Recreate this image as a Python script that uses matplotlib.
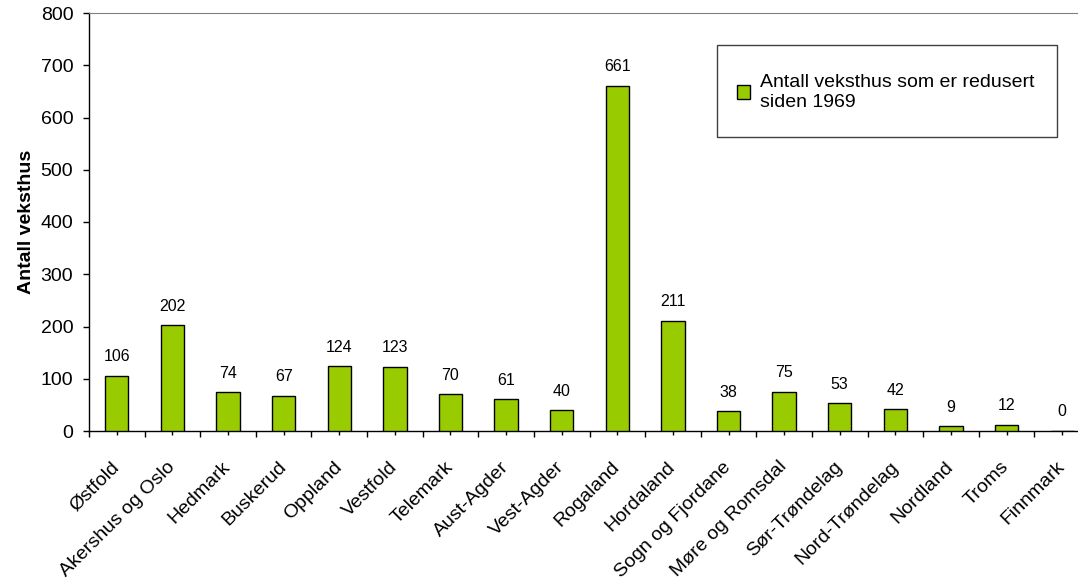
import matplotlib
matplotlib.use("Agg")
import matplotlib.pyplot as plt
from matplotlib.patches import Rectangle
from matplotlib.legend_handler import HandlerPatch
import numpy as np

plt.rcParams['font.family'] = ['Liberation Sans', 'DejaVu Sans']

fylker = ['Østfold', 'Akershus og Oslo', 'Hedmark', 'Buskerud', 'Oppland',
          'Vestfold', 'Telemark', 'Aust-Agder', 'Vest-Agder', 'Rogaland',
          'Hordaland', 'Sogn og Fjordane', 'Møre og Romsdal', 'Sør-Trøndelag',
          'Nord-Trøndelag', 'Nordland', 'Troms', 'Finnmark']
antall = [106, 202, 74, 67, 124, 123, 70, 61, 40, 661, 211, 38, 75, 53, 42, 9, 12, 0]
serie_navn = 'Antall veksthus som er redusert\nsiden 1969'


def firkant_oppe(legend, orig_handle, xdescent, ydescent, width, height, fontsize):
    # legg symbolet ved første linje i en tolinjers tekst
    return Rectangle((-xdescent, -ydescent + 0.6 * fontsize), width, height)


W, H = 1078, 582
fig = plt.figure(figsize=(W / 100, H / 100), dpi=100)
ax = fig.add_axes([89 / W, 1 - 431 / H, 1001 / W, 418 / H])

x = np.arange(len(fylker))
bars = ax.bar(x, antall, width=0.42, color='#99CC00', edgecolor='black',
              linewidth=1.0, label=serie_navn, zorder=3)

for xi, v in zip(x, antall):
    ax.annotate(str(v), (xi, v), xytext=(0, 8.3), textcoords='offset points',
                ha='center', va='bottom', fontsize=11.5)

ax.set_xlim(-0.5, len(fylker) - 0.5)
ax.set_ylim(0, 800)
ax.set_yticks(range(0, 801, 100))
ax.tick_params(axis='y', direction='out', length=4.3, width=1, pad=7, labelsize=14)

ax.set_xticks(x)
ax.set_xticks(np.arange(-0.5, len(fylker), 1.0), minor=True)
ax.set_xticklabels(fylker, rotation=45, ha='right', va='center',
                   rotation_mode='anchor', fontsize=14)
ax.tick_params(axis='x', which='major', direction='out', length=3, width=1, pad=21)
ax.tick_params(axis='x', which='minor', direction='out', length=4.3, width=1)

ax.set_ylabel('Antall veksthus', fontsize=14, fontweight='bold', labelpad=4)

ax.spines['left'].set_linewidth(1)
ax.spines['bottom'].set_linewidth(1)
ax.spines['top'].set_color('#808080')
ax.spines['right'].set_color('#808080')

# forklaringsboks med egen ramme
boks = Rectangle((717 / W, 1 - 137 / H), 340 / W, 92 / H, transform=fig.transFigure,
                 facecolor='white', edgecolor='#404040', linewidth=1,
                 zorder=4, clip_on=False)
ax.add_patch(boks)

leg = ax.legend(loc='upper left', bbox_to_anchor=(737 / W, 1 - 74 / H),
                bbox_transform=fig.transFigure, fontsize=14, frameon=False,
                borderpad=0, handlelength=0.67, handleheight=0.67,
                handletextpad=0.5, borderaxespad=0,
                handler_map={Rectangle: HandlerPatch(patch_func=firkant_oppe)})
leg.set_zorder(5)

fig.savefig('out.png', dpi=100)
